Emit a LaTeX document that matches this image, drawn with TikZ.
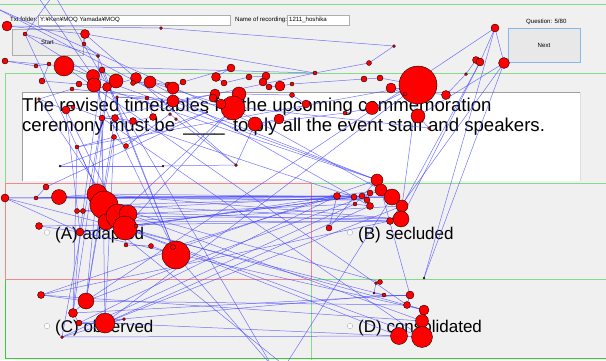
\documentclass[tikz,border=0pt]{standalone}
\usepackage{fontspec}
\setmainfont{Liberation Sans}
\definecolor{panel}{HTML}{F0F0F0}
\definecolor{zonegreen}{HTML}{86DC86}
\definecolor{zonegreendark}{HTML}{3CC83C}
\definecolor{zonered}{HTML}{F08A8A}
\definecolor{scanblue}{HTML}{4646FF}
\definecolor{fixred}{HTML}{FF0000}
\definecolor{ctrlborder}{HTML}{ADADAD}
\definecolor{nextblue}{HTML}{86B8EC}
\tikzset{
  scan/.style={draw=scanblue, line width=0.5pt, opacity=0.75},
  fix/.style={circle, fill=fixred, draw=black, line width=0.35pt, inner sep=0pt},
  radio/.style={circle, draw=gray!60, fill=white, minimum size=5.5pt, inner sep=0pt},
  uitext/.style={font=\fontsize{6.1}{7}\selectfont, anchor=base west, inner sep=0pt},
  sentence/.style={font=\fontsize{18.6}{20}\selectfont, anchor=base west, inner sep=0pt},
  option/.style={font=\fontsize{17}{18}\selectfont, anchor=base west, inner sep=0pt},
  field/.style={fill=white, draw=ctrlborder, line width=0.5pt},
  button/.style={fill=black!8, draw=ctrlborder, line width=0.6pt}
}
% fixation list: id / x / y / radius
\def\fixlist{1/7/26/5, 2/25/34/2, 3/85/34/4.5, 4/84/44/2, 5/98/56/1.7, 6/5/61/3,
 7/36/66/2, 8/49/64/2, 9/64/66/10, 10/42/81/3, 11/102/70/3, 12/93/76/6.5,
 13/94/85/7, 14/79/84/3, 15/116/81/7, 16/107/87/4.5, 17/136/78/5.5, 18/133/83/2.5,
 19/150/82/6, 20/168/85/3, 21/173/88/6, 22/183/82/3, 23/173/101/6, 24/161/28/1.5,
 25/231/68/4, 26/216/77/4.5, 27/224/83/3, 28/249/77/3, 29/266/76/4, 30/263/82/4,
 31/269/87/3, 32/280/86/5, 33/292/84/2, 34/292/95/2.5, 35/315/73/2, 36/369/63/2.5,
 37/394/46/1.5, 38/364/79/3, 39/380/78/3, 40/476/60/3.5, 41/480/62/4, 42/504/63/5.5,
 43/495/28/4, 44/466/74/1.5, 45/418/85/19, 46/391/88/5, 47/446/95/4.5, 48/418/116/7,
 49/429/128/1.5, 50/306/104/4, 51/345/113/2, 52/372/108/6.5, 53/215/94/5, 54/213/98/4,
 55/239/94/7, 56/233/108/12, 57/221/104/5, 58/255/124/7, 59/279/119/5, 60/72/89/2,
 61/39/99/1.5, 62/66/110/4, 63/73/107/2, 64/102/118/3, 65/115/118/3.5, 66/133/121/3.5,
 67/153/117/3.5, 68/147/98/2, 69/117/97/1.5, 70/170/114/1.5, 71/176/119/1.5, 72/114/137/2.5,
 73/77/147/2, 74/126/146/2.5, 75/60/166/1, 76/163/166/1, 77/236/165/1.5, 78/207/112/1,
 79/5/198/4, 80/36/198/2, 81/46/187/3, 82/59/197/7.5, 83/77/211/2.5, 84/83/211/2.5,
 85/39/226/3.5, 86/80/232/4, 87/97/194/10, 88/104/205/14, 89/106/222/8, 90/118/216/12,
 91/128/214/9, 92/125/228/12, 93/126/245/2, 94/151/246/2.5, 95/176/255/14, 96/377/180/6,
 97/381/190/6, 98/392/197/8, 99/402/206/6, 100/401/219/8, 101/390/221/3.5, 102/370/193/3,
 103/367/200/3, 104/370/206/3.5, 105/362/196/3, 106/354/197/3, 107/355/204/2, 108/337/196/3.5,
 109/329/228/3, 110/424/278/1, 111/41/295/3.5, 112/86/301/8, 113/73/313/4.5, 114/79/323/3,
 115/105/323/10, 116/124/319/1.5, 117/62/337/1.5, 118/380/282/2.5, 119/376/283/1.5, 120/374/293/1,
 121/384/295/2, 122/410/295/4, 123/407/305/3.5, 124/424/310/5, 125/422/321/6.5, 126/399/336/8.5,
 127/422/337/10.5, 128/136/226/2, 129/173/247/2.5, 130/405/94/2}
\begin{document}
\begin{tikzpicture}[x=1pt, y=-1pt]
\useasboundingbox (0,0) rectangle (606,360);
\fill[panel] (0,0) rectangle (606,360);

% ---- header controls ----
\draw[zonegreen, line width=0.8pt] (0,4) -- (606,4);
\node[uitext] (lblfolder) at (10,21) {Txt folder:};
\draw[field] (38,15) rectangle (230,25);
\node[uitext] (valfolder) at (40,21.5) {Y:¥Ken¥MOQ Yamada¥MOQ};
\node[uitext] (lblrec) at (235,21) {Name of recording:};
\draw[field] (287,15) rectangle (349,25);
\node[uitext] (valrec) at (289,21.5) {1211\_hoshika};
\node[uitext] (question) at (526,23) {Question: 5/80};
\draw[button] (12,29) rectangle (83,55);
\node[font=\fontsize{6.1}{7}\selectfont] (start) at (47.5,42) {Start};
\draw[fill=black!9, draw=nextblue, line width=0.7pt] (508,28) rectangle (580,62);
\node[font=\fontsize{6.1}{7}\selectfont] (next) at (544,45) {Next};

% ---- question text area ----
\fill[white] (22,92) rectangle (580,181);
\draw[gray!75, line width=0.7pt] (22,181) -- (22,92) -- (580,92);
\draw[gray!25, line width=0.5pt] (580,92) -- (580,181);
\node[sentence] (line1) at (22,111) {The revised timetables for the upcoming commemoration};
\node[sentence] (line2) at (22,131) {ceremony must be \,\_\_\_\_\, to ply all the event staff and speakers.};

% ---- answer options ----
\node[radio] (ra) at (47,232.5) {};
\node[option] (opta) at (55,239) {(A) adapted};
\node[radio] (rb) at (350,232.5) {};
\node[option] (optb) at (358,239) {(B) secluded};
\node[radio] (rc) at (47,326) {};
\node[option] (optc) at (55,332) {(C) observed};
\node[radio] (rd) at (350,326) {};
\node[option] (optd) at (358,332) {(D) consolidated};

% ---- areas of interest ----
\draw[zonegreen, line width=0.8pt] (5,183) -- (5,73) -- (606,73);
\draw[zonegreen, line width=0.8pt] (311,183) -- (606,183);
\draw[zonegreen, line width=0.8pt] (311,279) -- (606,279);
\draw[zonegreen, line width=0.8pt] (311,279) -- (311,360);
\draw[zonegreendark, line width=0.9pt] (5,279) -- (5,358) -- (606,358);
\draw[zonered, line width=0.8pt] (5,183) rectangle (311,279);

% ---- fixation positions ----
\foreach \i/\x/\y/\r in \fixlist { \coordinate (p\i) at (\x,\y); }
\coordinate (pT1) at (36,-6);
\coordinate (pT2) at (54,-6);
\coordinate (pT3) at (-4,8);
\coordinate (pB1) at (272,366);
\coordinate (pB2) at (285,366);

% ---- scanpath ----
\foreach \n [remember=\n as \prev (initially T1)] in {
 12,2,5,4,3,1,24,37,36,35,9,6,7,8,10,14,13,11,15,16,17,18,19,20,21,22,25,26,27,28,
 29,30,31,32,33,38,39,45,130,46,47,44,40,41,43,42,48,49,
 60,61,62,63,64,65,66,67,68,69,23,53,54,57,56,55,34,50,59,58,51,52,45,
 73,72,74,70,71,77,76,75,78,
 81,80,82,87,88,128,89,90,91,92,93,94,95,129,
 108,109,106,105,102,103,104,107,96,97,98,99,100,101,
 85,86,79,105,83,84,101,
 111,112,113,114,115,116,117,126,127,125,124,123,122,121,120,119,118,
 88,98,87,100,90,56,92,126,115,99,89,124,86,106,65,112,97,56,19,104,115,45,99,41,100,88,2,T2,
 B1,95,13,96,9,123,112,43,110,42,101,89,B2,98,80,103,82,108,97,122,113,86,105,79,121,114,108,92,127,64,117,107,91,125,111,96,
 23,T3,58,77,3,35,64,115,72,112,16,113,73,88,5,95,11,86,62,92,61}
 { \draw[scan] (p\prev) -- (p\n); }

% ---- fixations ----
\foreach \i/\x/\y/\r in \fixlist { \node[fix, minimum size=2*\r pt] (f\i) at (p\i) {}; }
\end{tikzpicture}
\end{document}
